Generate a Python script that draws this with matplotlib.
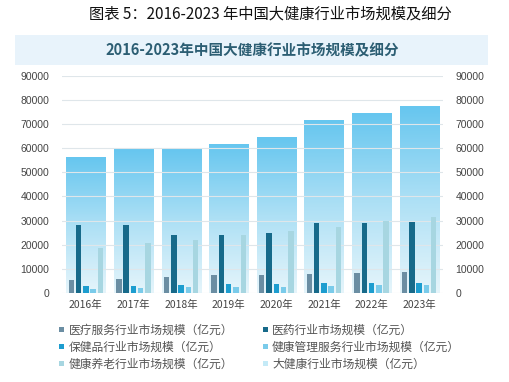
import numpy as np
import matplotlib.pyplot as plt
from matplotlib.patches import Patch, Rectangle
from matplotlib.colors import LinearSegmentedColormap

plt.rcParams['font.family'] = ['Noto Sans CJK SC', 'DejaVu Sans']

years = ["2016年", "2017年", "2018年", "2019年", "2020年", "2021年", "2022年", "2023年"]
medical_service = [5300, 5800, 6800, 7500, 7500, 7900, 8400, 8800]
pharma = [28200, 28200, 24000, 24000, 25000, 29200, 29200, 29600]
health_products = [2900, 2900, 3300, 3600, 3600, 4000, 4000, 4300]
health_mgmt = [1650, 2000, 2300, 2600, 2600, 2900, 3300, 3300]
elderly_care = [18500, 20600, 22000, 24000, 25800, 27500, 30000, 31600]
total = [56100, 59300, 59300, 61400, 64600, 71300, 74200, 77300]

names = ["医疗服务行业市场规模（亿元）", "医药行业市场规模（亿元）",
         "保健品行业市场规模（亿元）", "健康管理服务行业市场规模（亿元）",
         "健康养老行业市场规模（亿元）", "大健康行业市场规模（亿元）"]
colors = ["#6b8ea3", "#176a8a", "#1d9dcf", "#7acbea", "#a7d6e1", "#c4eaf7"]

fig = plt.figure(figsize=(5.1, 3.82), dpi=100)
fig.patch.set_facecolor("white")

fig.text(0.53, 0.962, "图表 5：2016-2023 年中国大健康行业市场规模及细分",
         ha="center", va="center", fontsize=11, color="#111111")

# banner behind chart title
fig.patches.append(Rectangle((15 / 510, 1 - 65 / 382), 473 / 510, 30 / 382,
                             transform=fig.transFigure, facecolor="#e8f3fb",
                             edgecolor="none", zorder=0))
fig.text(0.495, 1 - 50 / 382, "2016-2023年中国大健康行业市场规模及细分",
         ha="center", va="center", fontsize=10.5, fontweight="bold", color="#2c5e73")

ax = fig.add_axes([0.1216, 0.233, 0.747, 0.5686])
x = np.arange(len(years))

# big bars with vertical gradient
cmap = LinearSegmentedColormap.from_list("g", ["#e6f5fb", "#ade0f5", "#66c6ef"])
grad = np.linspace(0, 1, 256).reshape(-1, 1)
bw = 0.82
for xi, h in zip(x, total):
    ax.imshow(grad, extent=[xi - bw / 2, xi + bw / 2, 0, h], origin="lower",
              cmap=cmap, aspect="auto", zorder=1)

ax.set_yticks(np.arange(0, 90001, 10000))
ax.grid(axis="y", color="#dfe6ea", linewidth=0.8, zorder=2)
ax.set_axisbelow(False)

series = [medical_service, pharma, health_products, health_mgmt, elderly_care]
sw = 0.115
for k, (vals, c) in enumerate(zip(series, colors)):
    ax.bar(x + (k - 2) * 0.153, vals, width=sw, color=c, zorder=3)

ax.set_xlim(-0.5, 7.5)
ax.set_ylim(0, 90000)
ax.set_xticks(x)
ax.set_xticklabels(years, fontsize=7.5, color="#444444")
for s in ax.spines.values():
    s.set_visible(False)
ax.tick_params(length=0, pad=5)
ax.tick_params(axis="y", labelsize=7.5, labelcolor="#444444", pad=9,
               labelright=True, right=False)
for lbl in ax.get_yticklabels():
    lbl.set_family(["Liberation Sans", "DejaVu Sans"])

handles = [Patch(facecolor=c, edgecolor="none") for c in colors]
order = [0, 2, 4, 1, 3, 5]
fig.legend([handles[i] for i in order], [names[i] for i in order],
           loc="upper left", bbox_to_anchor=(0.116, 1 - 324 / 382), ncol=2,
           frameon=False, fontsize=8.5, labelcolor="#555555",
           handlelength=0.45, handleheight=0.3, handletextpad=0.35,
           columnspacing=2.5, labelspacing=0.32, borderaxespad=0,
           borderpad=0)

fig.savefig("out.png", dpi=100)
